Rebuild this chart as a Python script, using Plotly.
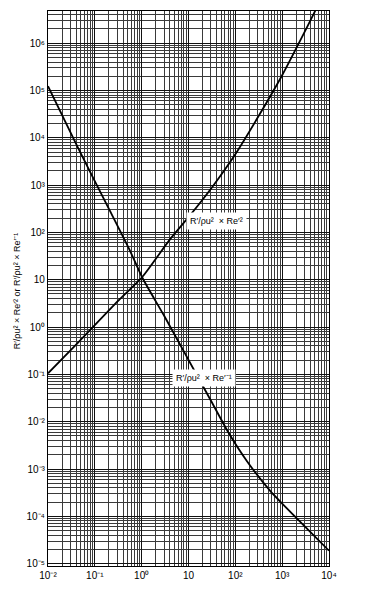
import plotly.graph_objects as go

# ---- data ----
# curve: R'/(rho u^2) x Re'^2
re_sq_x = [0.01, 0.0438, 0.345, 1.02, 4.05, 10, 31.9, 100, 292, 1000, 2500, 5070, 10000]
re_sq_y = [0.105, 0.47, 3.94, 11.3, 72, 210, 905, 4500, 25500, 210000, 1200000, 4820000, 19000000]

# curve: R'/(rho u^2) x Re'^-1
re_inv_x = [0.01, 0.0438, 0.2, 0.565, 1.02, 3, 8.45, 30, 70.2, 179, 555, 1000, 3000, 10000]
re_inv_y = [123000, 6100, 315, 40.8, 11.3, 1.75, 0.274, 0.028, 0.00604, 0.00144, 0.000345, 0.000186, 0.000062, 0.0000188]

x_decades = [1e-2, 1e-1, 1e0, 1e1, 1e2, 1e3, 1e4]
x_labels = ["10⁻²", "10⁻¹", "10⁰", "10", "10²", "10³", "10⁴"]
y_decades = [1e-5, 1e-4, 1e-3, 1e-2, 1e-1, 1e0, 1e1, 1e2, 1e3, 1e4, 1e5, 1e6]
y_labels = ["10⁻⁵", "10⁻⁴", "10⁻³", "10⁻²", "10⁻¹", "10⁰", "10",
            "10²", "10³", "10⁴", "10⁵", "10⁶"]


def minor_vals(decades):
    return [k * d for d in decades for k in range(2, 10)]


fig = go.Figure()
fig.add_trace(go.Scatter(x=re_sq_x, y=re_sq_y, mode="lines",
                         line=dict(color="black", width=1.8, shape="spline", smoothing=0.6),
                         showlegend=False, hoverinfo="skip"))
fig.add_trace(go.Scatter(x=re_inv_x, y=re_inv_y, mode="lines",
                         line=dict(color="black", width=1.8, shape="spline", smoothing=0.6),
                         showlegend=False, hoverinfo="skip"))

font = dict(family="Liberation Sans, Arial, sans-serif", size=10, color="black")

grid_minor = dict(showgrid=True, gridcolor="#3a3a3a", gridwidth=0.7, ticks="")

fig.update_xaxes(type="log", range=[-2, 4], tickvals=x_decades, ticktext=x_labels,
                 showgrid=True, gridcolor="#111111", gridwidth=0.9,
                 minor=dict(tickvals=minor_vals(x_decades), **grid_minor),
                 showline=True, linecolor="black", linewidth=1.2, mirror=True,
                 ticks="", zeroline=False, tickfont=font, tickangle=0)
fig.update_yaxes(type="log", range=[-5.05, 6.68], tickvals=y_decades, ticktext=y_labels,
                 showgrid=True, gridcolor="#111111", gridwidth=0.9,
                 minor=dict(tickvals=minor_vals(y_decades), **grid_minor),
                 showline=True, linecolor="black", linewidth=1.2, mirror=True,
                 ticks="", zeroline=False, tickfont=font)

fig.add_annotation(xref="paper", yref="paper", x=0.60, y=0.621,
                   text="R′/ρu²  × Re′²", showarrow=False,
                   bgcolor="white", font=dict(family=font["family"], size=9, color="black"),
                   borderpad=3)
fig.add_annotation(xref="paper", yref="paper", x=0.668, y=0.323,
                   text="R′/ρu²  × Re′⁻¹", showarrow=False,
                   bgcolor="white", font=dict(family=font["family"], size=9, color="black"),
                   borderpad=3)
fig.add_annotation(xref="paper", yref="paper", x=-0.135, y=0.495, textangle=-90,
                   text="R′/ρu² × Re′² or R′/ρu² × Re′⁻¹",
                   showarrow=False, font=dict(family=font["family"], size=9, color="black"))

fig.update_layout(width=382, height=591, margin=dict(l=48, r=53, t=10, b=14),
                  paper_bgcolor="white", plot_bgcolor="white", font=font)

fig.write_html("out.html")
